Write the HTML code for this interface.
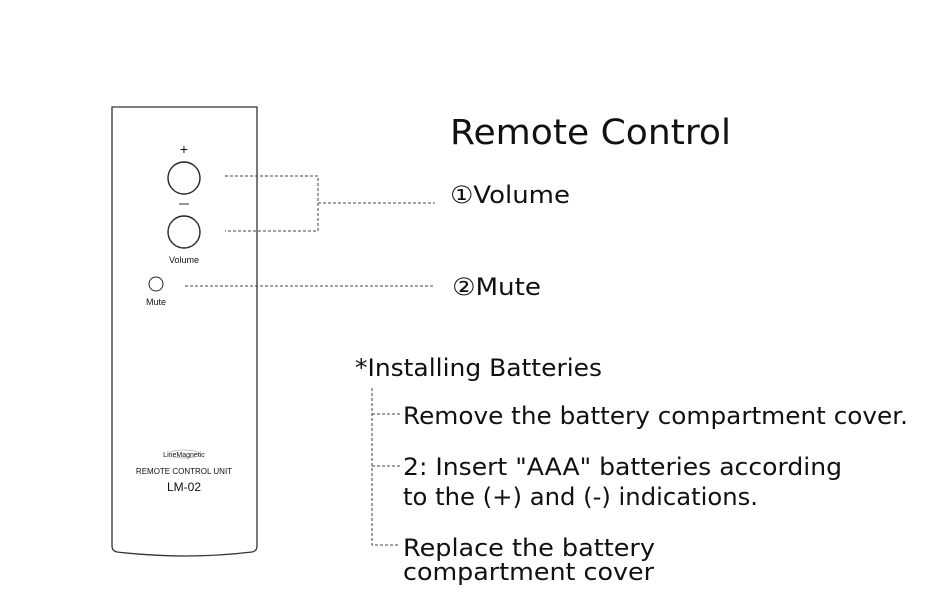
<!DOCTYPE html>
<html><head><meta charset="utf-8"><style>
html,body{margin:0;padding:0;background:#fff;}
svg{display:block;}
text{font-family:"DejaVu Sans","Liberation Sans","Noto Sans CJK SC",sans-serif;fill:#111;}
text.s{font-family:"Liberation Sans","DejaVu Sans",sans-serif;}
</style></head><body>
<svg width="943" height="613" viewBox="0 0 943 613" xmlns="http://www.w3.org/2000/svg">
<path d="M112,107 L257,107 L257,546 Q257,551 252,552 Q185,560 117,552 Q112,551 112,546 Z" fill="#fff" stroke="#333" stroke-width="1.3"/>
<text class="s" x="184" y="154" font-size="14" text-anchor="middle" fill="#333">+</text>
<circle cx="184" cy="178" r="16" fill="none" stroke="#222" stroke-width="1.4"/>
<line x1="179" y1="204" x2="189" y2="204" stroke="#333" stroke-width="1"/>
<circle cx="184" cy="232" r="16" fill="none" stroke="#222" stroke-width="1.4"/>
<text class="s" x="184" y="263" font-size="9" text-anchor="middle">Volume</text>
<circle cx="156" cy="284" r="7" fill="none" stroke="#222" stroke-width="1"/>
<text class="s" x="156" y="305" font-size="9" text-anchor="middle">Mute</text>
<text class="s" x="184" y="457" font-size="7" text-anchor="middle" fill="#333">LineMagnetic</text>
<ellipse cx="184" cy="454" rx="16" ry="4" fill="none" stroke="#888" stroke-width="0.5"/>
<text class="s" x="184" y="474" font-size="8" text-anchor="middle">REMOTE CONTROL UNIT</text>
<text class="s" x="184" y="491" font-size="12" text-anchor="middle">LM-02</text>
<g stroke="#444" stroke-width="1" stroke-dasharray="3,2" fill="none">
<path d="M225,176 H318 V231 H225"/>
<path d="M318,203 H435"/>
<path d="M185,286 H435"/>
<path d="M372,388 V545 H400"/>
<path d="M372,414 H400"/>
<path d="M372,466 H400"/>
</g>
<text x="450" y="144" font-size="35" textLength="281" lengthAdjust="spacingAndGlyphs">Remote Control</text>
<text x="450" y="203" font-size="24" textLength="120" lengthAdjust="spacingAndGlyphs">①Volume</text>
<text x="452" y="295" font-size="24" textLength="89" lengthAdjust="spacingAndGlyphs">②Mute</text>
<text x="355" y="376" font-size="24" textLength="247" lengthAdjust="spacingAndGlyphs">*Installing Batteries</text>
<text x="403" y="424" font-size="24" textLength="505" lengthAdjust="spacingAndGlyphs">Remove the battery compartment cover.</text>
<text x="403" y="475" font-size="24" textLength="439" lengthAdjust="spacingAndGlyphs">2: Insert "AAA" batteries according</text>
<text x="403" y="505" font-size="24" textLength="355" lengthAdjust="spacingAndGlyphs">to the (+) and (-) indications.</text>
<text x="403" y="556" font-size="24" textLength="252" lengthAdjust="spacingAndGlyphs">Replace the battery</text>
<text x="403" y="580" font-size="24" textLength="251" lengthAdjust="spacingAndGlyphs">compartment cover</text>
</svg>
</body></html>
